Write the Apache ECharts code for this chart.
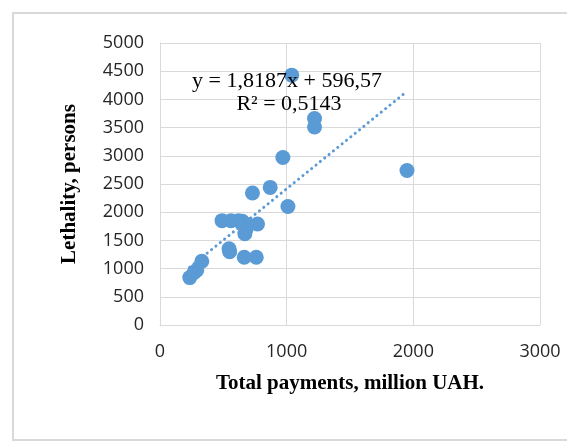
<!DOCTYPE html>
<html>
<head>
<meta charset="utf-8">
<script src="https://cdn.jsdelivr.net/npm/echarts@6/dist/echarts.min.js"></script>
<style>
  html, body { margin: 0; padding: 0; background: #ffffff; }
  #chart { width: 567px; height: 442px; }
</style>
</head>
<body>
<div id="chart"></div>
<script>
// Total payments (million UAH) against lethality (persons)
const payments = [1040, 1220, 1220, 970, 1950, 870, 730, 1010, 490, 560, 620, 650, 690, 770, 680, 670, 545, 550, 665, 760, 330, 290, 270, 235];
const lethality = [4430, 3660, 3510, 2970, 2740, 2440, 2340, 2100, 1850, 1850, 1850, 1840, 1780, 1790, 1700, 1620, 1350, 1300, 1200, 1200, 1130, 970, 930, 840];

// Linear trend fit reported on the chart
const trendSlope = 1.8187;
const trendIntercept = 596.57;
const trendR2 = 0.5143;

const xTicks = [0, 1000, 2000, 3000];
const yTicks = [0, 500, 1000, 1500, 2000, 2500, 3000, 3500, 4000, 4500, 5000];

const points = payments.map((x, i) => [x, lethality[i]]);
const xMin = Math.min(...payments);
const xMax = Math.max(...payments);
const trendLine = [xMin, xMax].map(x => [x, trendSlope * x + trendIntercept]);

const fmt = v => String(v).replace('.', ',');

const chart = echarts.init(document.getElementById('chart'), null, { renderer: 'canvas' });

const gridColor = '#d9d9d9';
const tickFont = { fontFamily: 'Open Sans', fontSize: 18, color: '#262626', formatter: v => String(v) };
const titleFont = { fontFamily: 'Liberation Serif', fontSize: 21, fontWeight: 'bold', color: '#000000' };

chart.setOption({
  animation: false,
  backgroundColor: '#ffffff',
  grid: { left: 160, right: 27, top: 43, bottom: 117, containLabel: false },
  xAxis: {
    type: 'value',
    min: xTicks[0],
    max: xTicks[xTicks.length - 1],
    interval: xTicks[1] - xTicks[0],
    name: 'Total payments, million UAH.',
    nameLocation: 'middle',
    nameGap: 48,
    nameTextStyle: titleFont,
    axisLine: { show: true, lineStyle: { color: gridColor, width: 1 } },
    axisTick: { show: false },
    axisLabel: Object.assign({ margin: 18 }, tickFont),
    splitLine: { show: true, lineStyle: { color: gridColor, width: 1 } }
  },
  yAxis: {
    type: 'value',
    min: yTicks[0],
    max: yTicks[yTicks.length - 1],
    interval: yTicks[1] - yTicks[0],
    name: 'Lethality, persons',
    nameLocation: 'middle',
    nameGap: 80,
    nameRotate: 90,
    nameTextStyle: titleFont,
    axisLine: { show: true, lineStyle: { color: gridColor, width: 1 } },
    axisTick: { show: false },
    axisLabel: Object.assign({ margin: 16 }, tickFont),
    splitLine: { show: true, lineStyle: { color: gridColor, width: 1 } }
  },
  series: [
    {
      type: 'line',
      data: trendLine,
      symbol: 'none',
      silent: true,
      z: 1,
      lineStyle: { color: '#5b9bd5', width: 3, type: [0.1, 5.5], cap: 'round' }
    },
    {
      type: 'scatter',
      data: points,
      symbol: 'circle',
      symbolSize: 15,
      z: 2,
      itemStyle: { color: '#5b9bd5', opacity: 1 }
    }
  ],
  graphic: [
    {
      type: 'rect',
      shape: { x: 13, y: 13, width: 620, height: 427 },
      style: { fill: 'none', stroke: '#d9d9d9', lineWidth: 2 },
      silent: true,
      z: -1
    },
    {
      type: 'text',
      x: 287,
      y: 81,
      style: {
        text: 'y = ' + fmt(trendSlope) + 'x + ' + fmt(trendIntercept),
        font: '22px "Liberation Serif"',
        fill: '#000000',
        align: 'center',
        verticalAlign: 'middle'
      },
      z: 10
    },
    {
      type: 'text',
      x: 289,
      y: 104,
      style: {
        text: 'R² = ' + fmt(trendR2),
        font: '22px "Liberation Serif"',
        fill: '#000000',
        align: 'center',
        verticalAlign: 'middle'
      },
      z: 10
    }
  ]
});
</script>
</body>
</html>
